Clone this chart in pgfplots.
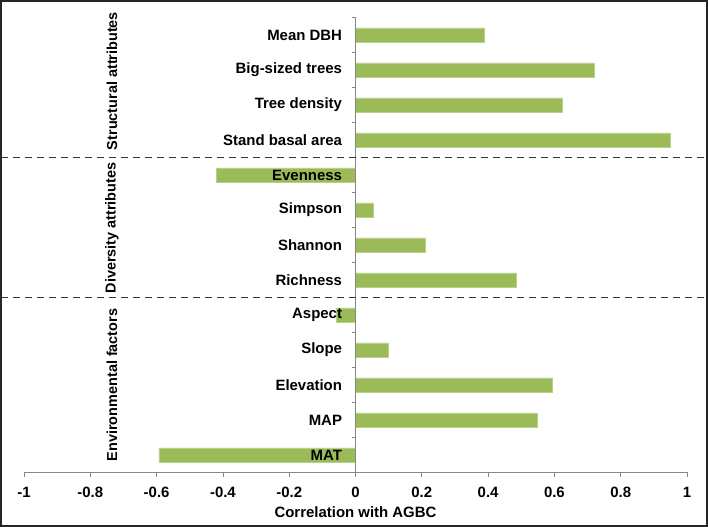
\documentclass[border=0pt]{standalone}
\usepackage{fontspec}
\setmainfont{Liberation Sans}
\usepackage{pgfplots}
\pgfplotsset{compat=1.18}
\definecolor{barg}{HTML}{9BBB59}
\definecolor{axgray}{HTML}{868686}
\begin{document}
\begin{tikzpicture}[x=1bp,y=1bp]
\begin{axis}[
  at={(0,0)}, anchor=south west,
  width=663bp, height=455bp, scale only axis,
  xmin=-1, xmax=1, ymin=-0.5, ymax=12.5,
  xbar, bar width=14bp,
  axis on top,
  axis x line=bottom, axis y line=middle,
  axis line style={-, draw=axgray, line width=0.8bp},
  hide obscured x ticks=false, hide obscured y ticks=false,
  xtick={-1,-0.8,...,1},
  xticklabels={-1,-0.8,-0.6,-0.4,-0.2,0,0.2,0.4,0.6,0.8,1},
  ytick={0,...,12},
  yticklabels={MAT,MAP,Elevation,Slope,Aspect,Richness,Shannon,Simpson,Evenness,Stand basal area,Tree density,Big-sized trees,Mean DBH},
  minor ytick={-0.5,0.5,...,12.5},
  major y tick style={draw=none},
  minor y tick style={draw=axgray, line width=0.8bp},
  x tick style={draw=axgray, line width=0.8bp},
  tick align=outside,
  major tick length=5bp, minor tick length=4bp,
  xticklabel style={font=\bfseries\fontsize{15}{18}\selectfont, text=black, yshift=-6bp},
  yticklabel style={font=\bfseries\fontsize{15}{18}\selectfont, text=black, xshift=-5bp},
  xlabel={Correlation with AGBC},
  xlabel style={font=\bfseries\fontsize{15}{18}\selectfont, at={(axis description cs:0.5,0)}, anchor=center, yshift=-40bp},
  clip=false,
]
\addplot[fill=barg, draw=barg!70!white, line width=0.6bp] coordinates {
  (-0.593,0) (0.548,1) (0.595,2) (0.10,3) (-0.059,4)
  (0.485,5) (0.21,6) (0.053,7) (-0.42,8)
  (0.95,9) (0.625,10) (0.72,11) (0.39,12)
};
\end{axis}
\draw[dash pattern=on 7bp off 5bp, line width=1.8bp, color=black!80] (-23,315) -- (683,315);
\draw[dash pattern=on 7bp off 5bp, line width=1.8bp, color=black!80] (-23,175) -- (683,175);
\node[rotate=90, font=\bfseries\fontsize{14.5}{17}\selectfont] at (88,391.5) {Structural attributes};
\node[rotate=90, font=\bfseries\fontsize{14.5}{17}\selectfont] at (88,244.5) {Diversity attributes};
\node[rotate=90, font=\bfseries\fontsize{14.5}{17}\selectfont] at (88,87.5) {Environmental factors};
\draw[line width=2bp, color=black!85] (-23,-53.5) rectangle (683,471.5);
\end{tikzpicture}
\end{document}
